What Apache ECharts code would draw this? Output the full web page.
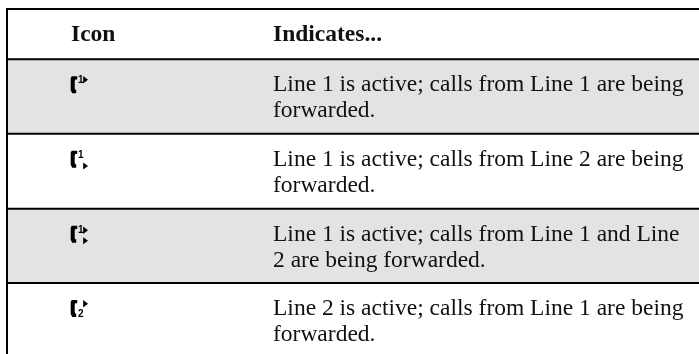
<!DOCTYPE html>
<html><head><meta charset="utf-8">
<style>html,body{margin:0;padding:0;background:#fff}#c{width:699px;height:354px}</style>
<script src="https://cdn.jsdelivr.net/npm/echarts@6/dist/echarts.min.js"></script>
</head><body><div id="c"></div>
<script>
var headers = ['Icon', 'Indicates...'];
var rowLines = [
  ['Line 1 is active; calls from Line 1 are being', 'forwarded.'],
  ['Line 1 is active; calls from Line 2 are being', 'forwarded.'],
  ['Line 1 is active; calls from Line 1 and Line', '2 are being forwarded.'],
  ['Line 2 is active; calls from Line 1 are being', 'forwarded.']
];
var rowShaded = [1, 0, 1, 0];
var rowTops = [59.3, 133.7, 208.7, 283];
var rowBottoms = [133.7, 208.7, 283, 357];
var iconDigit = ['1', '1', '1', '2'];
var iconDigitOffset = [20.5, 21.5, 22, 31];
var iconArrowTop = [20.5, 0, 21.5, 20.7];
var iconArrowBottom = [0, 32.3, 32, 0];

var F = '"Liberation Serif","Times New Roman",serif';
var chart = echarts.init(document.getElementById('c'), null, {renderer: 'canvas'});

function text(x, y, s, size, weight) {
  return {type: 'text', x: x, y: y, silent: true,
    style: {text: s, fill: '#111', font: (weight || 'normal') + ' ' + size + 'px ' + F,
      textAlign: 'left', textVerticalAlign: 'bottom'}};
}
function tri(x, y, w, h) {
  return {type: 'polygon', shape: {points: [[x, y - h / 2], [x + w, y], [x, y + h / 2]]}, style: {fill: '#000'}};
}
function handset(x, y) {
  var p = 'M' + (x + 6.5) + ' ' + y + 'L' + (x + 1) + ' ' + y + 'L' + x + ' ' + (y + 2) + 'L' + x + ' ' + (y + 14) +
    'L' + (x + 1.5) + ' ' + (y + 17) + 'L' + (x + 5.5) + ' ' + (y + 17) + 'L' + (x + 5.5) + ' ' + (y + 13.5) + 'L' + (x + 4.5) + ' ' + (y + 13.5) +
    'L' + (x + 4) + ' ' + (y + 12) + 'L' + (x + 4) + ' ' + (y + 5) + 'L' + (x + 4.5) + ' ' + (y + 3.2) + 'L' + (x + 6.5) + ' ' + (y + 3.2) + 'Z';
  return {type: 'path', shape: {pathData: p}, style: {fill: '#000'}};
}
function renderRow(params, api) {
  var i = api.value(0);
  var tl = api.coord([0, api.value(1)]);
  var br = api.coord([699, api.value(2)]);
  var top = tl[1], kids = [];
  if (rowShaded[i]) {
    kids.push({type: 'rect', shape: {x: 7, y: top, width: 692, height: br[1] - top}, style: {fill: '#e3e3e3'}});
  }
  kids.push(handset(70.7, top + 17));
  kids.push({type: 'text', x: 78, y: top + iconDigitOffset[i], style: {text: iconDigit[i], fill: '#000',
    font: 'bold 10px "Liberation Sans"', textAlign: 'left', textVerticalAlign: 'middle'}});
  if (iconArrowTop[i]) kids.push(tri(83.2, top + iconArrowTop[i], 4.8, 7.5));
  if (iconArrowBottom[i]) kids.push(tri(83.2, top + iconArrowBottom[i], 4.8, 7));
  kids.push(text(273, top + 38, rowLines[i][0], 23.5));
  kids.push(text(273, top + 64, rowLines[i][1], 23.5));
  kids.push({type: 'rect', shape: {x: 6, y: top - 1, width: 693, height: 2}, style: {fill: '#000'}});
  return {type: 'group', children: kids};
}
chart.setOption({
  animation: false,
  grid: {left: 0, right: 0, top: 0, bottom: 0},
  xAxis: {type: 'value', min: 0, max: 699, show: false},
  yAxis: {type: 'value', min: 0, max: 354, inverse: true, show: false},
  graphic: [
    {type: 'rect', shape: {x: 6, y: 8, width: 693, height: 2}, style: {fill: '#000'}},
    {type: 'rect', shape: {x: 6, y: 8, width: 2, height: 346}, style: {fill: '#000'}, z: 10},
    text(71, 47, headers[0], 23.5, 'bold'),
    text(273, 47, headers[1], 23.5, 'bold')
  ],
  series: [{
    type: 'custom',
    coordinateSystem: 'cartesian2d',
    clip: false,
    silent: true,
    renderItem: renderRow,
    encode: {x: 1, y: 1},
    data: rowTops.map(function (t, i) { return [i, t, rowBottoms[i]]; })
  }]
});
</script></body></html>
